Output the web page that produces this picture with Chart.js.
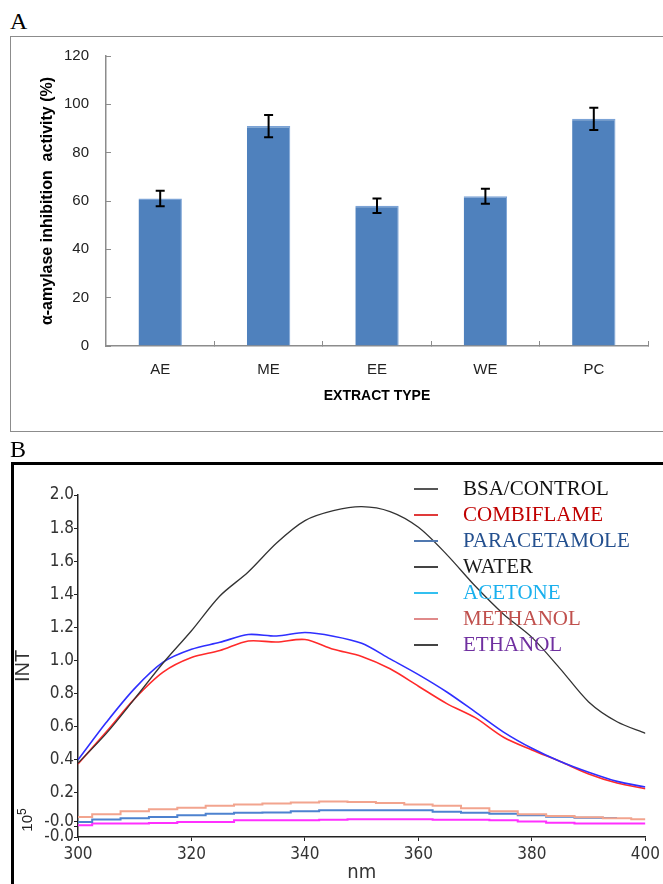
<!DOCTYPE html>
<html>
<head>
<meta charset="utf-8">
<script src="https://cdn.jsdelivr.net/npm/chart.js@4.4.1/dist/chart.umd.min.js"></script>
<style>
  html, body { margin: 0; padding: 0; background: #fff; }
  body { width: 663px; height: 884px; position: relative; overflow: hidden; }
  .panel-letter { position: absolute; font-family: 'Liberation Serif', serif; font-size: 24px; color: #000; }
  #frameA { position: absolute; left: 10px; top: 36px; width: 680px; height: 394px; border: 1.5px solid #8c8c8c; }
  #frameB { position: absolute; left: 11px; top: 462px; width: 680px; height: 440px;
            border-top: 3px solid #000; border-left: 3px solid #000; }
  #wrapA { position: absolute; left: 0; top: 0; width: 663px; height: 440px; }
  #wrapB { position: absolute; left: 0; top: 440px; width: 663px; height: 444px; }
  #legendB { position: absolute; left: 414px; top: 475px; font-family: 'Liberation Serif', serif; font-size: 21px; }
  #legendB div { height: 26px; line-height: 26px; position: relative; white-space: nowrap; }
  #legendB span.ln { position: absolute; left: 0; top: 13px; width: 24px; height: 1.5px; }
  #legendB span.tx { position: absolute; left: 49px; top: 0; }
  #expo { position: absolute; left: 8px; top: 810px; width: 34px; text-align: center; transform: rotate(-90deg);
          font-family: 'Liberation Sans', Arial, sans-serif; font-size: 15px; color: #222; }
  #expo sup { font-size: 12px; }
</style>
</head>
<body>
<div class="panel-letter" style="left:10px; top:8px;">A</div>
<div id="frameA"></div>
<div id="wrapA"><canvas id="chartA" width="663" height="440"></canvas></div>

<div class="panel-letter" style="left:10px; top:436px;">B</div>
<div id="frameB"></div>
<div id="wrapB"><canvas id="chartB" width="663" height="444"></canvas></div>
<div id="legendB"></div>
<div id="expo">10<sup>5</sup></div>

<script>
// ---- panel A data ----
const extractTypes = ['AE', 'ME', 'EE', 'WE', 'PC'];
const inhibition = [61, 91, 58, 62, 94];
const inhibitionErr = [3.2, 4.6, 3.0, 3.1, 4.6];

// ---- panel B data ----
const wavelength = [300, 305, 310, 315, 320, 325, 330, 335, 340, 345, 350,
                    355, 360, 365, 370, 375, 380, 385, 390, 395, 400];
const bsaControl = [0.38, 0.56, 0.77, 0.985, 1.18, 1.39, 1.535, 1.71, 1.845, 1.905, 1.93,
                    1.90, 1.805, 1.64, 1.45, 1.28, 1.14, 0.95, 0.75, 0.63, 0.56];
const combiflame = [0.375, 0.57, 0.77, 0.93, 1.018, 1.06, 1.118, 1.112, 1.127, 1.068, 1.025,
                    0.95, 0.845, 0.74, 0.655, 0.537, 0.46, 0.39, 0.315, 0.26, 0.226];
const paracetamole = [0.40, 0.627, 0.832, 0.99, 1.068, 1.11, 1.157, 1.148, 1.169, 1.147, 1.104,
                      1.01, 0.915, 0.81, 0.69, 0.568, 0.47, 0.39, 0.325, 0.27, 0.236];
const methanol = [0.055, 0.072, 0.089, 0.102, 0.11, 0.123, 0.13, 0.136, 0.143, 0.149, 0.145,
                  0.14, 0.131, 0.123, 0.108, 0.09, 0.072, 0.061, 0.054, 0.048, 0.041];
const acetone = [0.025, 0.039, 0.048, 0.055, 0.065, 0.075, 0.08, 0.082, 0.09, 0.095, 0.095,
                 0.095, 0.095, 0.086, 0.08, 0.075, 0.066, 0.057, 0.051, 0.049, null];
const ethanol = [0.005, 0.015, 0.015, 0.018, 0.025, 0.025, 0.035, 0.035, 0.035, 0.038, 0.041,
                 0.041, 0.041, 0.038, 0.038, 0.035, 0.028, 0.02, 0.015, 0.015, 0.015];

const yTickValuesB = [2.0, 1.8, 1.6, 1.4, 1.2, 1.0, 0.8, 0.6, 0.4, 0.2, 0.03, -0.005, -0.066];
const yTickLabelsB = ['2.0', '1.8', '1.6', '1.4', '1.2', '1.0', '0.8', '0.6', '0.4', '0.2', '-0.0', '', '-0.0'];

const legendNames = ['BSA/CONTROL', 'COMBIFLAME', 'PARACETAMOLE', 'WATER', 'ACETONE', 'METHANOL', 'ETHANOL'];
const legendText = ['#111111', '#c00000', '#24508f', '#1a1a1a', '#19b0ee', '#c0504d', '#7030a0'];
const legendLine = ['#555555', '#e03a3a', '#5078b0', '#444444', '#33c0f0', '#e08a8a', '#444444'];

// ---- panel A: bars with error bars ----
const errorBars = {
    id: 'errorBars',
    afterDatasetsDraw(chart) {
        const { ctx, scales: { y } } = chart;
        const meta = chart.getDatasetMeta(0);
        ctx.save();
        ctx.strokeStyle = '#000';
        ctx.lineWidth = 2;
        meta.data.forEach((bar, i) => {
            const top = y.getPixelForValue(inhibition[i] + inhibitionErr[i]);
            const bot = y.getPixelForValue(inhibition[i] - inhibitionErr[i]);
            ctx.beginPath();
            ctx.moveTo(bar.x, top); ctx.lineTo(bar.x, bot);
            ctx.moveTo(bar.x - 4.5, top); ctx.lineTo(bar.x + 4.5, top);
            ctx.moveTo(bar.x - 4.5, bot); ctx.lineTo(bar.x + 4.5, bot);
            ctx.stroke();
        });
        ctx.restore();
    }
};

new Chart(document.getElementById('chartA'), {
    type: 'bar',
    data: {
        labels: extractTypes,
        datasets: [{
            data: inhibition,
            backgroundColor: '#4f81bd',
            borderColor: '#7ba3d6',
            borderWidth: { top: 1.5, left: 0, right: 1, bottom: 0 },
            barPercentage: 0.4,
            categoryPercentage: 1.0
        }]
    },
    options: {
        responsive: false,
        animation: false,
        layout: { padding: { left: 0, right: 15, top: 56, bottom: 0 } },
        plugins: { legend: { display: false }, tooltip: { enabled: false } },
        scales: {
            x: {
                grid: { drawOnChartArea: false, tickLength: -5, color: '#8c8c8c', offset: true },
                border: { color: '#8c8c8c', width: 1.5 },
                ticks: { color: '#222', padding: 20, font: { family: 'Liberation Sans, Arial', size: 15 } },
                title: {
                    display: true, text: 'EXTRACT TYPE', color: '#000',
                    font: { family: 'Liberation Sans, Arial', size: 14, weight: 'bold' },
                    padding: { top: 0, bottom: 35 }
                },
                afterFit: s => { s.height = 94; }
            },
            y: {
                min: 0, max: 120,
                grid: { drawOnChartArea: false, tickLength: -5, color: '#8c8c8c' },
                border: { color: '#8c8c8c', width: 1.5 },
                ticks: { stepSize: 20, color: '#222', padding: 22, font: { family: 'Liberation Sans, Arial', size: 15 } },
                title: {
                    display: true, text: 'α-amylase inhibition  activity (%)', color: '#000',
                    font: { family: 'Liberation Sans, Arial', size: 16, weight: 'bold' },
                    padding: { top: 38, bottom: 0 }
                },
                afterFit: s => { s.width = 106; }
            }
        }
    },
    plugins: [errorBars]
});

// ---- panel B: fluorescence spectra ----
const pts = arr => arr.map((v, i) => ({ x: wavelength[i], y: v }));
const spectrum = (arr, color, width, stepped) => ({
    data: pts(arr), borderColor: color, borderWidth: width, pointRadius: 0,
    tension: stepped ? 0 : 0.3, stepped: stepped ? 'middle' : false, fill: false
});

const narrow = "'Liberation Sans Narrow', 'Arial Narrow', 'DejaVu Sans Condensed', sans-serif";

new Chart(document.getElementById('chartB'), {
    type: 'line',
    data: {
        datasets: [
            spectrum(methanol, '#f2a48e', 2, true),
            spectrum(acetone, '#4d82cf', 2, true),
            spectrum(ethanol, '#ff30ff', 2, true),
            spectrum(bsaControl, '#333333', 1.3, false),
            spectrum(paracetamole, '#2f2fff', 1.6, false),
            spectrum(combiflame, '#ff2a2a', 1.6, false)
        ]
    },
    options: {
        responsive: false,
        animation: false,
        layout: { padding: { left: 0, right: 12, top: 55, bottom: 0 } },
        plugins: { legend: { display: false }, tooltip: { enabled: false } },
        scales: {
            x: {
                type: 'linear', min: 300, max: 400,
                grid: { drawOnChartArea: false, tickLength: 4, color: '#222' },
                border: { color: '#222', width: 1.5 },
                ticks: { stepSize: 20, color: '#333', padding: 3, font: { family: narrow, size: 17 } },
                title: {
                    display: true, text: 'nm', color: '#333',
                    font: { family: narrow, size: 20, lineHeight: 1.0 },
                    padding: { top: 0, bottom: 1 }
                },
                afterFit: s => { s.height = 47; }
            },
            y: {
                min: -0.066, max: 2.0,
                grid: { drawOnChartArea: false, tickLength: 4, color: '#222' },
                border: { color: '#222', width: 1.5 },
                afterBuildTicks: s => { s.ticks = yTickValuesB.map(v => ({ value: v })); },
                ticks: {
                    color: '#333', padding: 0, autoSkip: false,
                    font: { family: narrow, size: 17 },
                    callback: (v, i) => yTickLabelsB[i]
                },
                title: {
                    display: true, text: 'INT', color: '#333',
                    font: { family: 'Liberation Sans, Arial', size: 20 },
                    padding: { top: 11, bottom: 0 }
                },
                afterFit: s => { s.width = 78; }
            }
        }
    }
});

// legend for panel B
const legendBox = document.getElementById('legendB');
legendNames.forEach((name, i) => {
    const row = document.createElement('div');
    row.innerHTML = '<span class="ln" style="background:' + legendLine[i] + '"></span>' +
                    '<span class="tx" style="color:' + legendText[i] + '">' + name + '</span>';
    legendBox.appendChild(row);
});
</script>
</body>
</html>
